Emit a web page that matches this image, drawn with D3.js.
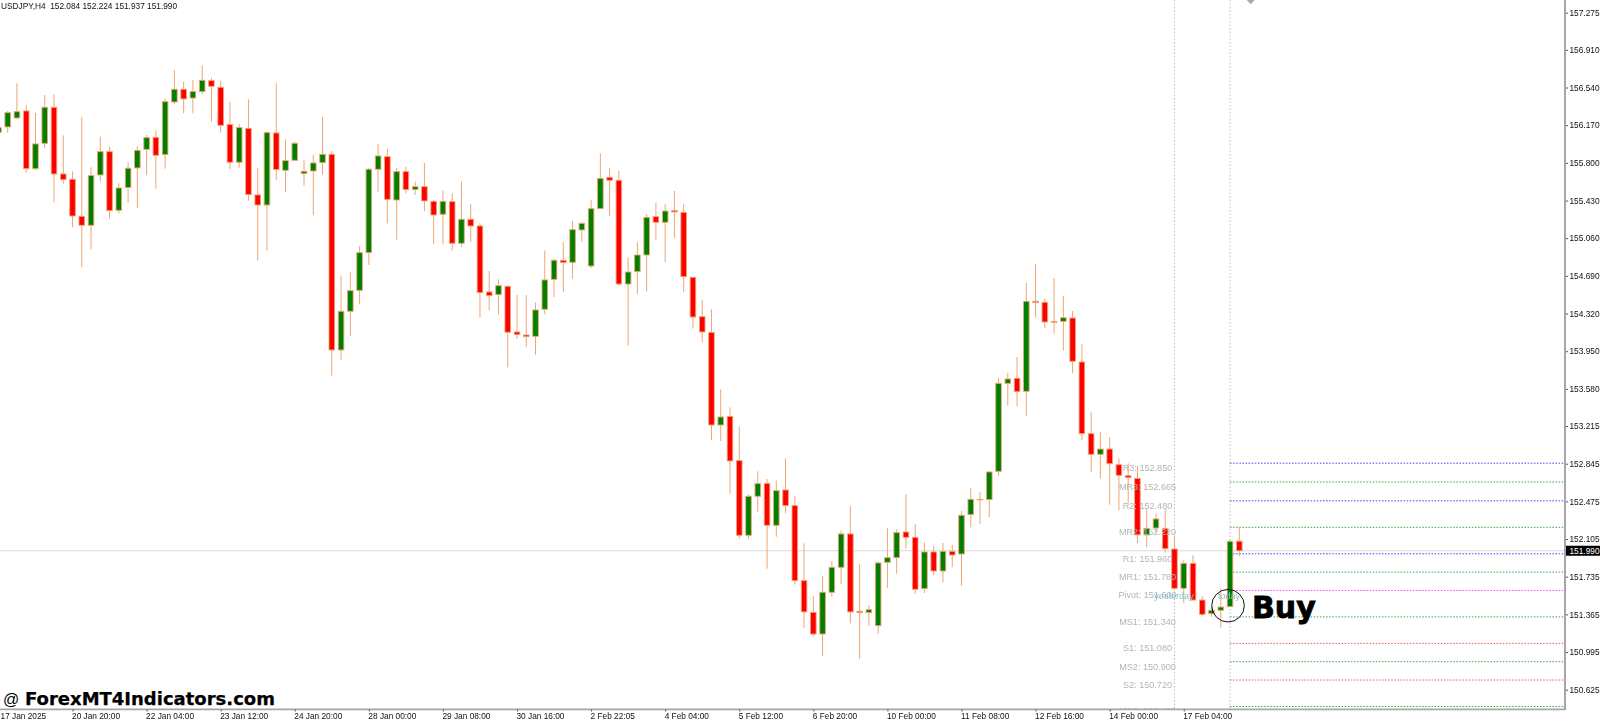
<!DOCTYPE html>
<html><head><meta charset="utf-8">
<script src="https://cdn.jsdelivr.net/npm/d3@7/dist/d3.min.js"></script>
<style>html,body{margin:0;padding:0;background:#fff;overflow:hidden}svg{display:block}</style>
</head><body><svg id="c" width="1600" height="723"></svg>
<script>
const candleOpen=[156.100,156.153,156.241,156.310,155.743,155.992,156.346,155.691,155.639,155.275,
155.187,155.681,155.910,155.334,155.557,155.750,155.933,156.051,155.881,156.398,
156.523,156.437,156.500,156.608,156.542,156.176,155.806,156.139,155.485,155.386,
156.094,155.727,155.825,155.694,155.720,155.802,155.884,153.962,154.342,154.548,
154.918,155.737,155.861,155.435,155.714,155.537,155.566,155.422,155.295,155.419,
155.010,155.246,155.180,154.532,154.506,154.587,154.139,154.109,154.096,154.362,
154.656,154.843,154.823,155.141,154.787,155.350,155.658,155.629,154.610,154.732,
154.895,155.272,155.216,155.331,155.314,154.676,154.289,154.135,153.225,153.310,
152.875,152.142,152.525,152.652,152.240,152.587,152.433,151.696,151.385,151.172,
151.582,151.827,152.155,151.395,151.382,151.254,151.876,151.922,152.174,152.122,
151.618,151.978,151.791,151.984,151.958,152.345,152.495,152.492,152.770,153.634,
153.684,153.556,154.440,154.430,154.243,154.243,154.276,153.844,153.140,152.937,
152.989,152.835,152.727,152.701,152.145,152.213,152.207,152.007,151.621,151.866,
151.506,151.372,151.405,151.441,152.084];
const candleHigh=[156.156,156.310,156.582,156.365,156.290,156.467,156.473,156.071,155.717,156.248,
155.756,156.058,155.956,155.599,155.806,155.963,156.074,156.120,156.428,156.712,
156.598,156.614,156.758,156.634,156.604,156.398,156.182,156.424,155.750,156.110,
156.582,156.031,156.009,155.828,155.881,156.251,155.917,154.689,154.725,154.984,
155.750,155.985,155.936,155.750,155.760,155.616,155.799,155.435,155.530,155.501,
155.616,155.393,155.206,154.738,154.656,154.601,154.502,154.502,154.427,154.938,
154.859,155.023,155.229,155.216,155.432,155.894,155.750,155.720,154.869,155.020,
155.298,155.409,155.393,155.524,155.396,154.676,154.453,154.361,153.576,153.399,
153.209,152.544,152.770,152.695,152.679,152.898,152.531,152.063,151.546,151.742,
151.889,152.187,152.430,151.857,151.457,151.883,152.210,152.200,152.544,152.250,
152.073,152.037,152.066,152.047,152.381,152.603,152.564,152.764,153.684,153.739,
153.893,154.620,154.806,154.469,154.669,154.492,154.345,154.017,153.350,153.153,
153.107,152.898,152.849,152.826,152.397,152.357,152.397,152.128,151.896,151.945,
151.546,151.441,151.621,152.096,152.224];
const candleLow=[156.090,156.097,156.228,155.704,155.730,155.946,155.413,155.593,155.167,154.774,
154.951,155.616,155.252,155.305,155.409,155.354,155.678,155.547,155.743,156.378,
156.287,156.287,156.473,156.202,156.097,155.740,155.753,155.429,154.840,154.938,
155.632,155.514,155.822,155.576,155.285,155.684,153.710,153.864,154.100,154.414,
154.797,155.517,155.206,155.046,155.501,155.485,155.324,155.000,155.003,154.938,
154.974,155.023,154.280,154.352,154.312,153.792,154.070,153.995,153.916,154.312,
154.483,154.529,154.660,155.023,154.768,155.347,155.278,154.594,154.005,154.512,
154.538,155.043,154.826,155.062,154.532,154.172,154.034,153.078,153.068,152.551,
152.109,152.112,152.371,151.814,152.128,152.358,151.657,151.231,151.153,150.956,
151.539,151.664,151.277,150.930,151.254,151.176,151.624,151.765,152.011,151.569,
151.575,151.749,151.680,151.830,151.647,152.220,152.253,152.322,152.724,153.412,
153.409,153.317,154.279,154.178,154.122,153.955,153.733,153.075,152.767,152.698,
152.443,152.387,152.456,152.066,152.024,152.161,151.971,151.605,151.474,151.500,
151.343,151.343,151.235,151.441,151.937];
const candleClose=[156.146,156.293,156.303,155.743,155.986,156.346,155.691,155.635,155.278,155.187,
155.675,155.910,155.331,155.553,155.747,155.923,156.048,155.874,156.401,156.523,
156.428,156.500,156.611,156.552,156.169,155.806,156.146,155.488,155.386,156.097,
155.734,155.822,155.992,155.717,155.799,155.884,153.962,154.342,154.545,154.918,
155.737,155.868,155.442,155.714,155.537,155.566,155.426,155.288,155.422,155.010,
155.246,155.180,154.525,154.496,154.594,154.136,154.113,154.093,154.355,154.650,
154.843,154.820,155.144,155.206,155.350,155.648,155.629,154.610,154.728,154.895,
155.265,155.216,155.327,155.318,154.682,154.286,154.139,153.225,153.304,152.872,
152.142,152.525,152.649,152.240,152.580,152.433,151.696,151.389,151.172,151.582,
151.827,152.155,151.389,151.382,151.411,151.870,151.922,152.168,152.122,151.611,
151.978,151.791,151.984,151.948,152.338,152.495,152.489,152.764,153.634,153.677,
153.553,154.440,154.427,154.237,154.234,154.279,153.851,153.140,152.937,152.989,
152.845,152.731,152.708,152.145,152.210,152.302,152.010,151.621,151.866,151.506,
151.365,151.405,151.437,152.082,151.990];
const priceTicks=[157.275,156.910,156.540,156.170,155.800,155.430,155.060,154.690,154.320,153.950,153.580,153.215,152.845,152.475,152.105,151.735,151.365,150.995,150.625];
const timeLabels=["17 Jan 2025","20 Jan 20:00","22 Jan 04:00","23 Jan 12:00","24 Jan 20:00","28 Jan 00:00","29 Jan 08:00","30 Jan 16:00","2 Feb 22:05","4 Feb 04:00","5 Feb 12:00","6 Feb 20:00","10 Feb 00:00","11 Feb 08:00","12 Feb 16:00","14 Feb 00:00","17 Feb 04:00"];
const timeLabelStep=8;
const pivotNames=["R3","MR3","R2","MR2","R1","MR1","Pivot","MS1","S1","MS2","S2","MS3"];
const pivotValues=[152.850,152.665,152.480,152.220,151.960,151.780,151.600,151.340,151.080,150.900,150.720,150.460];
const pivotColors=["#4040ff","#40a040","#4040ff","#40a040","#4040ff","#40a040","#ff40ff","#40a040","#ff5050","#40a040","#ff5050","#40a040"];
const lastPrice=151.990;
const headerText="USDJPY,H4  152.084 152.224 151.937 151.990";

const svg=d3.select("#c");
const FONT="'Liberation Sans',Arial,sans-serif";
const plotR=1564, plotB=709;
const x=d3.scaleLinear().domain([0,134]).range([-1.56,1239.3]);
const y=d3.scaleLinear().domain([157.275,150.625]).range([12.7,689.7]);

const defs=svg.append("defs");
defs.append("clipPath").attr("id","plot").append("rect").attr("x",0).attr("y",0).attr("width",plotR).attr("height",plotB);
defs.append("filter").attr("id","soft").attr("x","-5%").attr("y","-5%").attr("width","110%").attr("height","110%")
  .append("feGaussianBlur").attr("stdDeviation",0.35);
defs.append("filter").attr("id","softT").attr("x","-5%").attr("y","-20%").attr("width","110%").attr("height","140%")
  .append("feGaussianBlur").attr("stdDeviation",0.22);
const g=svg.append("g").attr("clip-path","url(#plot)");

// session separators
const sepX=[x(127),x(133)];
g.selectAll("line.sep").data(sepX).join("line").attr("x1",d=>d).attr("x2",d=>d).attr("y1",0).attr("y2",plotB)
  .attr("stroke","#bdbdbd").attr("stroke-width",1).attr("stroke-dasharray","1.5 2");

// last price line
g.append("line").attr("x1",0).attr("x2",plotR).attr("y1",y(lastPrice)).attr("y2",y(lastPrice)).attr("stroke","#d9d9d9").attr("stroke-width",1.2);

// pivot lines
g.selectAll("line.piv").data(pivotValues).join("line").attr("x1",x(133)).attr("x2",plotR)
  .attr("y1",d=>y(d)).attr("y2",d=>y(d)).attr("stroke",(d,i)=>pivotColors[i]).attr("stroke-width",1).attr("stroke-dasharray","1.5 1.6");

// candles
const cg=g.append("g").attr("filter","url(#soft)");
const idx=d3.range(candleOpen.length);
cg.selectAll("line.w").data(idx).join("line").attr("x1",i=>x(i)).attr("x2",i=>x(i))
  .attr("y1",i=>y(candleHigh[i])).attr("y2",i=>y(candleLow[i])).attr("stroke","#eda673").attr("stroke-width",1);
cg.selectAll("rect.b").data(idx).join("rect")
  .attr("x",i=>x(i)-2.8).attr("width",5.6)
  .attr("y",i=>Math.min(y(candleOpen[i]),y(candleClose[i])))
  .attr("height",i=>Math.max(0.5,Math.abs(y(candleOpen[i])-y(candleClose[i]))))
  .attr("fill",i=>candleClose[i]>=candleOpen[i]?"#008000":"#ff0000")
  .attr("stroke","#eda673").attr("stroke-width",0.9);

// pivot labels
const lg=g.append("g").attr("filter","url(#softT)");
lg.selectAll("text.pl").data(pivotValues).join("text").attr("x",1147.5).attr("y",d=>y(d)+5)
  .attr("text-anchor","middle").attr("dominant-baseline","central").attr("font-family",FONT).attr("font-size",9.1)
  .attr("fill","#b4b4b4").text((d,i)=>pivotNames[i]+": "+d.toFixed(3));
lg.append("text").attr("x",1174).attr("y",596).attr("text-anchor","middle").attr("dominant-baseline","central").attr("font-family",FONT).attr("font-size",9.1).attr("fill","#86c2cc").text("yesterday");
lg.append("text").attr("x",1229).attr("y",596).attr("text-anchor","middle").attr("dominant-baseline","central").attr("font-family",FONT).attr("font-size",9.1).attr("fill","#86c2cc").text("today");

// chart shift marker at the top edge
svg.append("path").attr("d",d3.line()([[1246.7,0],[1254.7,0],[1250.7,4.2]])).attr("fill","#ababab");

// axes
svg.append("line").attr("x1",1565).attr("x2",1565).attr("y1",0).attr("y2",710).attr("stroke","#a6a6a6").attr("stroke-width",2);
svg.append("line").attr("x1",0).attr("x2",1566).attr("y1",709.4).attr("y2",709.4).attr("stroke","#a6a6a6").attr("stroke-width",1.6);
const axR=d3.axisRight(y).tickValues(priceTicks).tickFormat(d3.format(".3f")).tickSize(2).tickPadding(1.5);
const ay=svg.append("g").attr("transform","translate(1566,0)").call(axR);
ay.select(".domain").remove();
ay.selectAll("text").attr("font-family",FONT).attr("font-size",8.3).attr("fill","#111").attr("filter","url(#softT)");
ay.selectAll("line").attr("stroke","#555");
const tickIdx=timeLabels.map((d,i)=>i*timeLabelStep);
const axB=d3.axisBottom(x).tickValues(tickIdx).tickFormat((d,i)=>timeLabels[i]).tickSize(2).tickPadding(2);
const ax=svg.append("g").attr("transform","translate(0,709.5)").call(axB);
ax.select(".domain").remove();
ax.selectAll("line").attr("stroke","#555");
ax.selectAll("text").attr("text-anchor","start").attr("dx",(d,i)=>i===0?1.6:-1).attr("font-family",FONT).attr("font-size",8.3).attr("fill","#111").attr("filter","url(#softT)");

// last price tag
svg.append("rect").attr("x",1566).attr("y",y(lastPrice)-5).attr("width",34).attr("height",10).attr("fill","#000");
svg.append("text").attr("x",1569.5).attr("y",y(lastPrice)).attr("dominant-baseline","central").attr("font-family",FONT).attr("font-size",8.3).attr("fill","#fff").text(lastPrice.toFixed(3));

// header, annotation
svg.append("text").attr("x",1).attr("y",6).attr("dominant-baseline","central").attr("font-family",FONT).attr("font-size",8.3).attr("fill","#111").attr("filter","url(#softT)").attr("xml:space","preserve").text(headerText);
svg.append("circle").attr("cx",x(133)-2).attr("cy",605.7).attr("r",16.3).attr("fill","none").attr("stroke","#111").attr("stroke-width",1);
svg.append("text").attr("x",1252).attr("y",618).attr("font-family","'DejaVu Sans'").attr("font-weight",700).attr("font-size",30).attr("fill","#000").attr("stroke","#000").attr("stroke-width",0.8).text("Buy");
svg.append("text").attr("x",3).attr("y",705).attr("font-family","'Liberation Sans'").attr("font-size",16).attr("fill","#000").text("@");
svg.append("text").attr("x",25).attr("y",705).attr("font-family","'DejaVu Sans'").attr("font-weight",700).attr("font-size",18).attr("fill","#000").attr("stroke","#000").attr("stroke-width",0.25).text("ForexMT4Indicators.com");
</script></body></html>
